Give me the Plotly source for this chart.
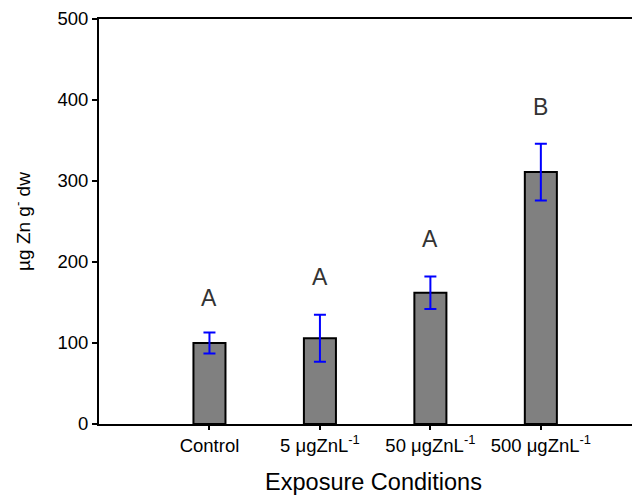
import plotly.graph_objects as go

categories = ["Control", "5 μgZnL<sup>-1</sup>", "50 μgZnL<sup>-1</sup>", "500 μgZnL<sup>-1</sup>"]
means = [100, 106, 162, 311]
errors = [13, 29, 20, 35]
letters = ["A", "A", "A", "B"]
letter_y = [155, 181, 228, 391]

xpos = list(range(len(categories)))
FONT = "Liberation Sans, Arial"

fig = go.Figure()
fig.add_trace(go.Bar(
    x=xpos, y=means, width=0.29,
    marker=dict(color="#808080", line=dict(color="black", width=2)),
    error_y=dict(type="data", array=errors, visible=True, color="#0000ff", thickness=2, width=6),
    showlegend=False,
))
for x, y, t in zip(xpos, letter_y, letters):
    fig.add_annotation(x=x, y=y, text=t, showarrow=False,
                       font=dict(size=23, color="#333333", family=FONT))

fig.update_layout(
    width=640, height=495,
    margin=dict(l=91, r=0, t=11, b=79),
    plot_bgcolor="white", paper_bgcolor="white",
    font=dict(family=FONT, color="black"),
    xaxis=dict(range=[-1.0, 3.97], tickvals=xpos, ticktext=categories,
               showline=True, linecolor="black", linewidth=2, mirror=True,
               ticks="outside", ticklen=4, tickwidth=2, tickcolor="black",
               showgrid=False, zeroline=False, tickfont=dict(size=18.5),
               title=dict(text="Exposure Conditions", font=dict(size=23.5), standoff=18)),
    yaxis=dict(range=[0, 500], tickvals=[0, 100, 200, 300, 400, 500],
               showline=True, linecolor="black", linewidth=2,
               ticks="outside", ticklen=5, tickwidth=2, tickcolor="black",
               showgrid=False, zeroline=False, tickfont=dict(size=18.5),
               title=dict(text="µg Zn g<sup>-</sup> dw", font=dict(size=19), standoff=22)),
)
fig.write_html("out.html")
